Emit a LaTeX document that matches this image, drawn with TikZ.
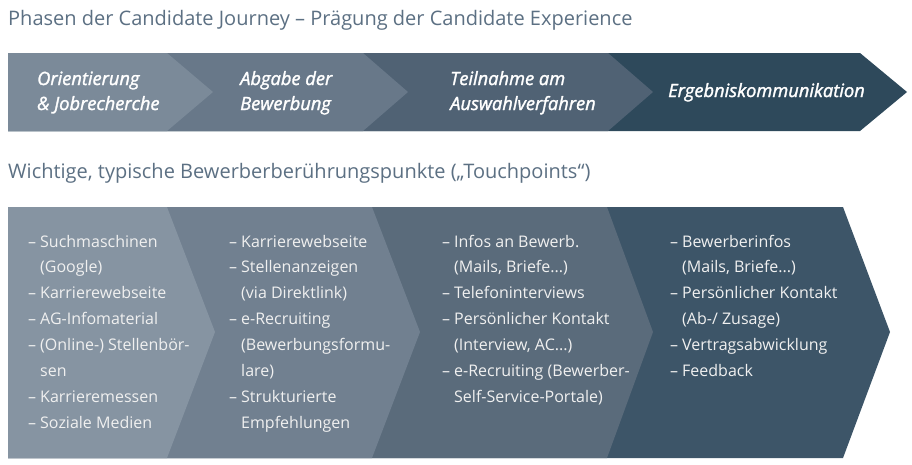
\documentclass[tikz,border=0pt]{standalone}
\usepackage{fontspec}
\setmainfont{Open Sans}
\newfontfamily\phasefont[FakeBold=1.6]{Open Sans}
\begin{document}
\begin{tikzpicture}[x=1pt,y=-1pt,
  title/.style={anchor=base west,inner sep=0pt,text=titlecol,font=\fontsize{20}{24}\selectfont},
  phase/.style={anchor=base west,inner sep=0pt,text=white,align=left,font=\phasefont\fontsize{18.3}{25}\selectfont\itshape},
  list/.style={anchor=base west,inner sep=0pt,text=white!94!black,align=left,font=\fontsize{16}{25.9}\selectfont}]
\definecolor{titlecol}{HTML}{5C7083}
\definecolor{ta}{HTML}{7B8A99}
\definecolor{tb}{HTML}{687889}
\definecolor{tc}{HTML}{506274}
\definecolor{td}{HTML}{2E495B}
\definecolor{ba}{HTML}{8694A2}
\definecolor{bb}{HTML}{718090}
\definecolor{bc}{HTML}{5A6B7B}
\definecolor{bd}{HTML}{3D5568}
\newcommand\itm[1]{\makebox[12pt][l]{–}#1}
\newcommand\cnt[1]{\hspace*{12pt}#1}
\useasboundingbox (0,0) rectangle (912,464);
\fill[white] (0,0) rectangle (912,464);
% top band
\fill[td] (8,53) -- (860,53) -- (907,92) -- (860,131) -- (8,131) -- cycle;
\fill[tc] (8,53) -- (608,53) -- (653,92) -- (608,131) -- (8,131) -- cycle;
\fill[tb] (8,53) -- (363,53) -- (408,92) -- (363,131) -- (8,131) -- cycle;
\fill[ta] (8,53) -- (167,53) -- (213,92) -- (167,131) -- (8,131) -- cycle;
% bottom band
\fill[bd] (8,207) -- (843,207) -- (890,332) -- (843,458) -- (8,458) -- cycle;
\fill[bc] (8,207) -- (607,207) -- (653,332) -- (607,458) -- (8,458) -- cycle;
\fill[bb] (8,207) -- (372,207) -- (420,332) -- (372,458) -- (8,458) -- cycle;
\fill[ba] (8,207) -- (167,207) -- (215,332) -- (167,458) -- (8,458) -- cycle;
% titles
\node[title] (t1) at (8,25) {Phasen der Candidate Journey – Prägung der Candidate Experience};
\node[title] (t2) at (8,178) {Wichtige, typische Bewerberberührungspunkte („Touchpoints“)};
% phases (anchor = baseline of last line)
\node[phase] (p1) at (37,110) {Orientierung\\\& Jobrecherche};
\node[phase] (p2) at (240,110) {Abgabe der\\Bewerbung};
\node[phase] (p3) at (450,110) {Teilnahme am\\Auswahlverfahren};
\node[phase] (p4) at (668,97) {Ergebniskommunikation};
% lists (anchor = baseline of last line; first line at 247)
\node[list] (l1) at (28,428.3) {\itm{Suchmaschinen}\\\cnt{(Google)}\\\itm{Karrierewebseite}\\\itm{AG-Infomaterial}\\\itm{(Online-) Stellenbör-}\\\cnt{sen}\\\itm{Karrieremessen}\\\itm{Soziale Medien}};
\node[list] (l2) at (229,428.3) {\itm{Karrierewebseite}\\\itm{Stellenanzeigen}\\\cnt{(via Direktlink)}\\\itm{e-Recruiting}\\\cnt{(Bewerbungsformu-}\\\cnt{lare)}\\\itm{Strukturierte}\\\cnt{Empfehlungen}};
\node[list] (l3) at (442,402.4) {\itm{Infos an Bewerb.}\\\cnt{(Mails, Briefe...)}\\\itm{Telefoninterviews}\\\itm{Persönlicher Kontakt}\\\cnt{(Interview, AC...)}\\\itm{e-Recruiting (Bewerber-}\\\cnt{Self-Service-Portale)}};
\node[list] (l4) at (670,376.5) {\itm{Bewerberinfos}\\\cnt{(Mails, Briefe...)}\\\itm{Persönlicher Kontakt}\\\cnt{(Ab-/ Zusage)}\\\itm{Vertragsabwicklung}\\\itm{Feedback}};
\end{tikzpicture}
\end{document}
